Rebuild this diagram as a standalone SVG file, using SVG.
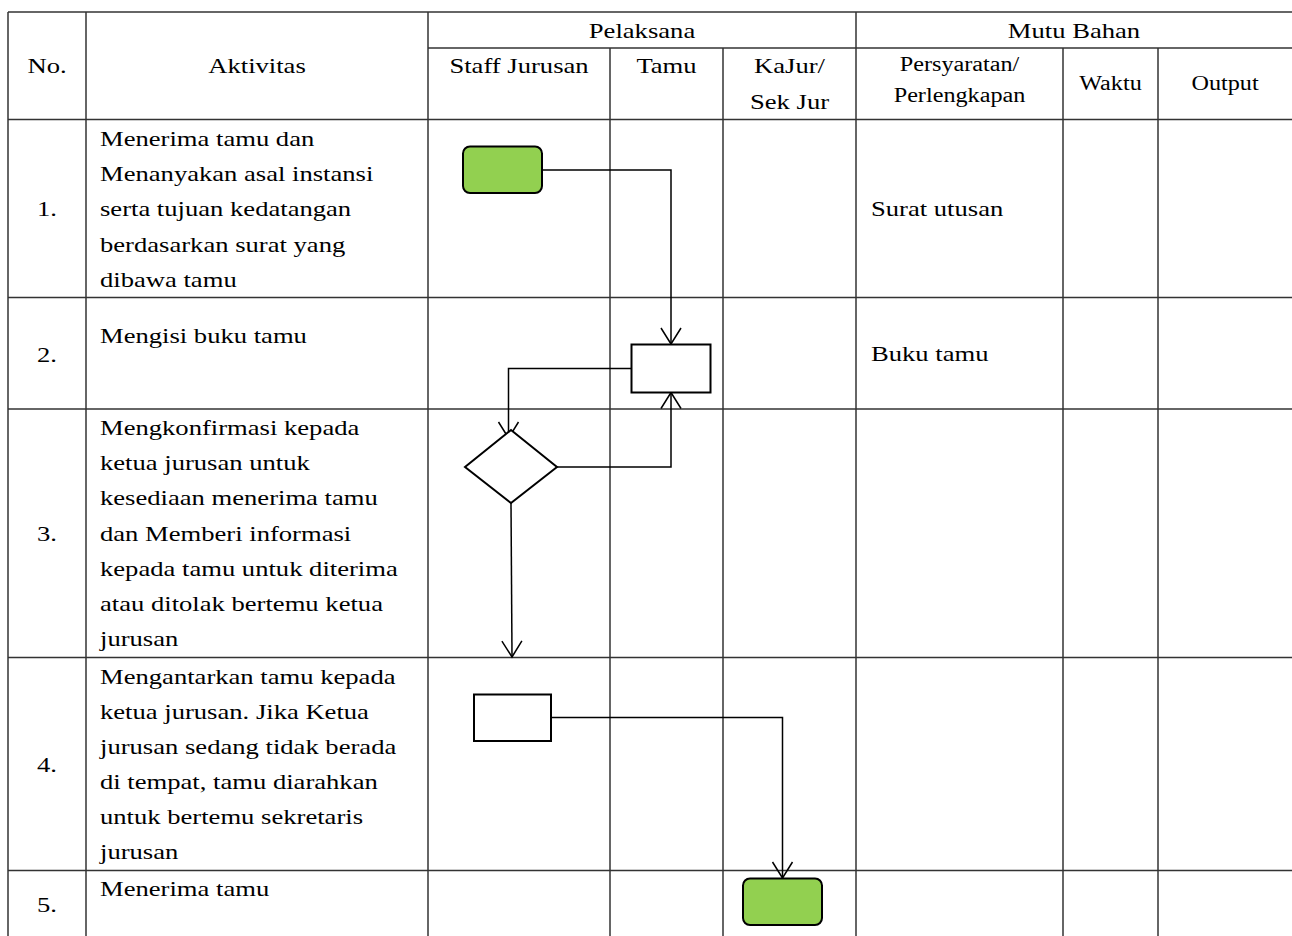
<svg xmlns="http://www.w3.org/2000/svg" width="1292" height="936" viewBox="0 0 1292 936">
<style>
.grid line{stroke:#333;stroke-width:1.5}
.t{font-family:"Liberation Serif","Times New Roman",serif;font-size:22px;fill:#000}
.s{font-family:"Liberation Serif","Times New Roman",serif;font-size:20px;fill:#000}
.c{text-anchor:middle}
.term{fill:#92D050;stroke:#000;stroke-width:2}
.proc{fill:#fff;stroke:#000;stroke-width:2}
.conn{fill:none;stroke:#000;stroke-width:1.5}
</style>
<defs>
<marker id="arr" viewBox="-18 -12 20 24" refX="0" refY="0" markerWidth="20" markerHeight="24" markerUnits="userSpaceOnUse" orient="auto" overflow="visible">
<path d="M-16,-10 L0,0 L-16,10" fill="none" stroke="#000" stroke-width="1.5"/>
</marker>
</defs>
<rect width="1292" height="936" fill="#fff"/>
<g id="table" class="grid">
<line x1="8" y1="12" x2="1292" y2="12"/>
<line x1="428" y1="48" x2="1292" y2="48"/>
<line x1="8" y1="119.5" x2="1292" y2="119.5"/>
<line x1="8" y1="297.5" x2="1292" y2="297.5"/>
<line x1="8" y1="409" x2="1292" y2="409"/>
<line x1="8" y1="657.5" x2="1292" y2="657.5"/>
<line x1="8" y1="870.5" x2="1292" y2="870.5"/>
<line x1="8" y1="12" x2="8" y2="936"/>
<line x1="86" y1="12" x2="86" y2="936"/>
<line x1="428" y1="12" x2="428" y2="936"/>
<line x1="610" y1="48" x2="610" y2="936"/>
<line x1="723" y1="48" x2="723" y2="936"/>
<line x1="856" y1="12" x2="856" y2="936"/>
<line x1="1063" y1="48" x2="1063" y2="936"/>
<line x1="1158" y1="48" x2="1158" y2="936"/>
</g>
<g id="headers">
<text class="t c" transform="translate(47,73) scale(1.21,1)">No.</text>
<text class="t c" transform="translate(257,73) scale(1.21,1)">Aktivitas</text>
<text class="t c" transform="translate(642,37.5) scale(1.21,1)">Pelaksana</text>
<text class="t c" transform="translate(1074,37.5) scale(1.21,1)">Mutu Bahan</text>
<text class="t c" transform="translate(519,73) scale(1.21,1)">Staff Jurusan</text>
<text class="t c" transform="translate(666.5,73) scale(1.21,1)">Tamu</text>
<text class="t c" transform="translate(789.5,73) scale(1.21,1)">KaJur/</text>
<text class="t c" transform="translate(789.5,108.5) scale(1.21,1)">Sek Jur</text>
<text class="s c" transform="translate(959.5,70.5) scale(1.21,1)">Persyaratan/</text>
<text class="s c" transform="translate(959.5,102) scale(1.21,1)">Perlengkapan</text>
<text class="s c" transform="translate(1110.5,89.5) scale(1.21,1)">Waktu</text>
<text class="s c" transform="translate(1225,89.5) scale(1.21,1)">Output</text>
</g>
<g id="numbers">
<text class="t c" transform="translate(47,216) scale(1.21,1)">1.</text>
<text class="t c" transform="translate(47,361.5) scale(1.21,1)">2.</text>
<text class="t c" transform="translate(47,540.5) scale(1.21,1)">3.</text>
<text class="t c" transform="translate(47,772) scale(1.21,1)">4.</text>
<text class="t c" transform="translate(47,912) scale(1.21,1)">5.</text>
</g>
<g id="activities">
<text class="t" transform="translate(100,146) scale(1.21,1)"><tspan x="0" y="0">Menerima tamu dan</tspan><tspan x="0" y="35.2">Menanyakan asal instansi</tspan><tspan x="0" y="70.4">serta tujuan kedatangan</tspan><tspan x="0" y="105.6">berdasarkan surat yang</tspan><tspan x="0" y="140.8">dibawa tamu</tspan></text>
<text class="t" transform="translate(100,343) scale(1.21,1)">Mengisi buku tamu</text>
<text class="t" transform="translate(100,435) scale(1.21,1)"><tspan x="0" y="0">Mengkonfirmasi kepada</tspan><tspan x="0" y="35.2">ketua jurusan untuk</tspan><tspan x="0" y="70.4">kesediaan menerima tamu</tspan><tspan x="0" y="105.6">dan Memberi informasi</tspan><tspan x="0" y="140.8">kepada tamu untuk diterima</tspan><tspan x="0" y="176">atau ditolak bertemu ketua</tspan><tspan x="0" y="211.2">jurusan</tspan></text>
<text class="t" transform="translate(100,683.5) scale(1.21,1)"><tspan x="0" y="0">Mengantarkan tamu kepada</tspan><tspan x="0" y="35.2">ketua jurusan. Jika Ketua</tspan><tspan x="0" y="70.4">jurusan sedang tidak berada</tspan><tspan x="0" y="105.6">di tempat, tamu diarahkan</tspan><tspan x="0" y="140.8">untuk bertemu sekretaris</tspan><tspan x="0" y="176">jurusan</tspan></text>
<text class="t" transform="translate(100,895.5) scale(1.21,1)">Menerima tamu</text>
</g>
<g id="requirements">
<text class="t" transform="translate(871,216) scale(1.21,1)">Surat utusan</text>
<text class="t" transform="translate(871,360.5) scale(1.21,1)">Buku tamu</text>
</g>
<g id="connectors">
<polyline class="conn" points="542,170 671,170 671,344" marker-end="url(#arr)"/>
<polyline class="conn" points="631,368.5 508.5,368.5 508.5,438" marker-end="url(#arr)"/>
<polyline class="conn" points="557,467 671,467 671,392.5" marker-end="url(#arr)"/>
<polyline class="conn" points="511,503 512,657" marker-end="url(#arr)"/>
<polyline class="conn" points="551,717.5 782.5,717.5 782.5,878" marker-end="url(#arr)"/>
</g>
<g id="start">
<rect class="term" x="463" y="146.5" width="79" height="46.5" rx="7"/>
</g>
<g id="fill-guestbook">
<rect class="proc" x="631.5" y="344.5" width="79" height="48"/>
</g>
<g id="confirm">
<polygon class="proc" points="511,430 557,467 511,503 465,467"/>
</g>
<g id="escort">
<rect class="proc" x="474" y="694.5" width="77" height="46.5"/>
</g>
<g id="end">
<rect class="term" x="743" y="878.5" width="79" height="46.5" rx="7"/>
</g>
</svg>
